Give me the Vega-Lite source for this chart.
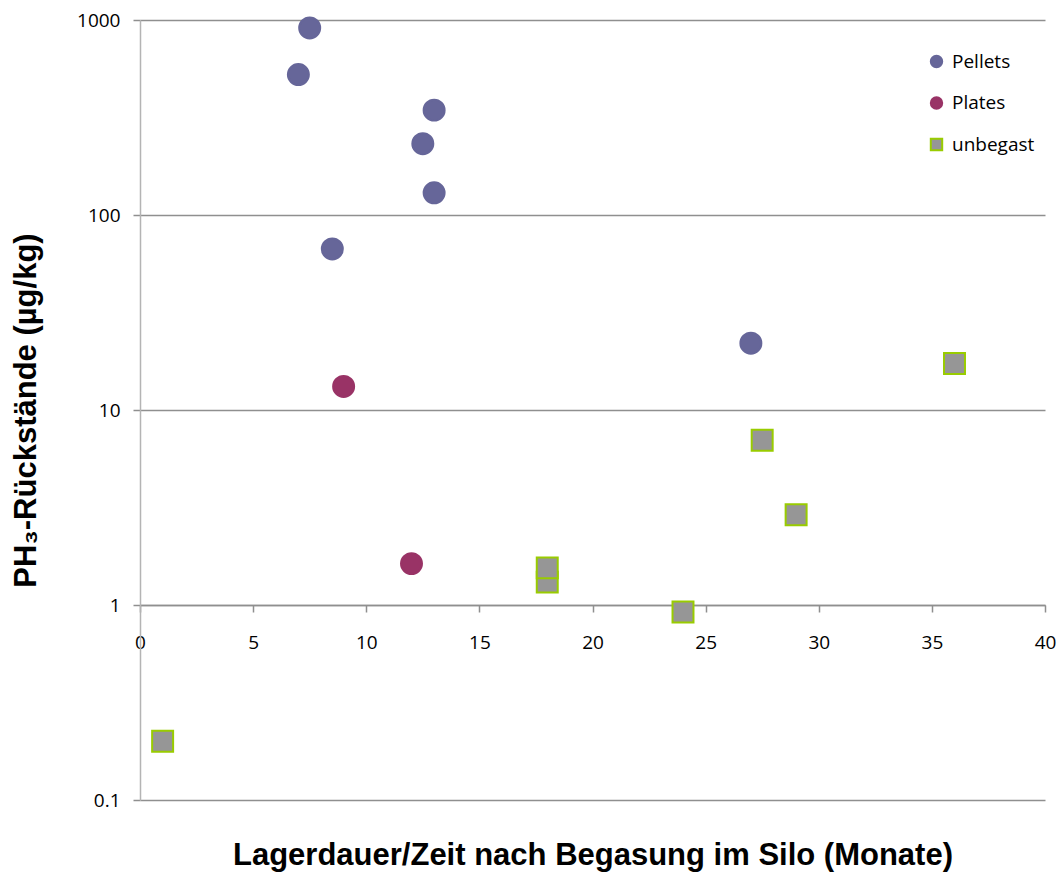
{
  "$schema": "https://vega.github.io/schema/vega-lite/v6.json",
  "autosize": "none",
  "width": 905,
  "height": 780,
  "padding": {"left": 140, "top": 20, "right": 13, "bottom": 73},
  "background": "white",
  "config": {
    "view": {"stroke": null},
    "axis": {"labelFont": "Open Sans", "labelFontSize": 19, "labelColor": "#000000", "titleFont": "Liberation Sans", "titleFontWeight": "bold", "titleFontSize": 31, "titleColor": "#000000"},
    "legend": {"labelFont": "Open Sans", "labelFontSize": 19, "labelColor": "#000000"}
  },
  "data": {
    "values": [
      {"Monate": 7.5, "PH3": 910, "Gruppe": "Pellets"},
      {"Monate": 7, "PH3": 525, "Gruppe": "Pellets"},
      {"Monate": 13, "PH3": 345, "Gruppe": "Pellets"},
      {"Monate": 12.5, "PH3": 232, "Gruppe": "Pellets"},
      {"Monate": 13, "PH3": 130, "Gruppe": "Pellets"},
      {"Monate": 8.5, "PH3": 67, "Gruppe": "Pellets"},
      {"Monate": 27, "PH3": 22, "Gruppe": "Pellets"},
      {"Monate": 9, "PH3": 13.2, "Gruppe": "Plates"},
      {"Monate": 12, "PH3": 1.63, "Gruppe": "Plates"},
      {"Monate": 1, "PH3": 0.2, "Gruppe": "unbegast"},
      {"Monate": 18, "PH3": 1.31, "Gruppe": "unbegast"},
      {"Monate": 18, "PH3": 1.55, "Gruppe": "unbegast"},
      {"Monate": 24, "PH3": 0.92, "Gruppe": "unbegast"},
      {"Monate": 27.5, "PH3": 7.0, "Gruppe": "unbegast"},
      {"Monate": 29, "PH3": 2.9, "Gruppe": "unbegast"},
      {"Monate": 36, "PH3": 17.3, "Gruppe": "unbegast"}
    ]
  },
  "mark": {"type": "point", "filled": true, "opacity": 1, "size": 440, "strokeWidth": 2},
  "encoding": {
    "x": {
      "field": "Monate", "type": "quantitative",
      "scale": {"domain": [0, 40], "nice": false, "zero": false},
      "axis": {
        "title": "Lagerdauer/Zeit nach Begasung im Silo (Monate)",
        "values": [0, 5, 10, 15, 20, 25, 30, 35, 40],
        "offset": -195,
        "grid": false,
        "domainColor": "#8f8f8f", "domainWidth": 1.5,
        "tickColor": "#8f8f8f", "tickSize": 7, "tickWidth": 1.5,
        "labelPadding": 21,
        "labelFlush": false,
        "titlePadding": 188
      }
    },
    "y": {
      "field": "PH3", "type": "quantitative",
      "scale": {"type": "log", "domain": [0.1, 1000], "nice": false},
      "axis": {
        "title": "PH₃-Rückstände (µg/kg)",
        "values": [0.1, 1, 10, 100, 1000],
        "format": "~g",
        "grid": true, "gridColor": "#8f8f8f", "gridWidth": 1.5,
        "domainColor": "#b4b4b4", "domainWidth": 1.5,
        "tickColor": "#8f8f8f", "tickSize": 7, "tickWidth": 1.5,
        "labelPadding": 13,
        "labelFlush": false,
        "titlePadding": 34
      }
    },
    "color": {
      "field": "Gruppe", "type": "nominal",
      "scale": {"domain": ["Pellets", "Plates", "unbegast"], "range": ["#666699", "#993366", "#969696"]},
      "legend": {
        "title": null, "orient": "none", "legendX": 787, "legendY": 32,
        "symbolSize": 130, "symbolStrokeWidth": 2, "rowPadding": 20.5, "labelOffset": 6, "padding": 0
      }
    },
    "shape": {
      "field": "Gruppe", "type": "nominal",
      "scale": {"domain": ["Pellets", "Plates", "unbegast"], "range": ["circle", "circle", "square"]}
    },
    "stroke": {
      "field": "Gruppe", "type": "nominal",
      "scale": {"domain": ["Pellets", "Plates", "unbegast"], "range": ["#666699", "#993366", "#99cc00"]}
    }
  }
}
